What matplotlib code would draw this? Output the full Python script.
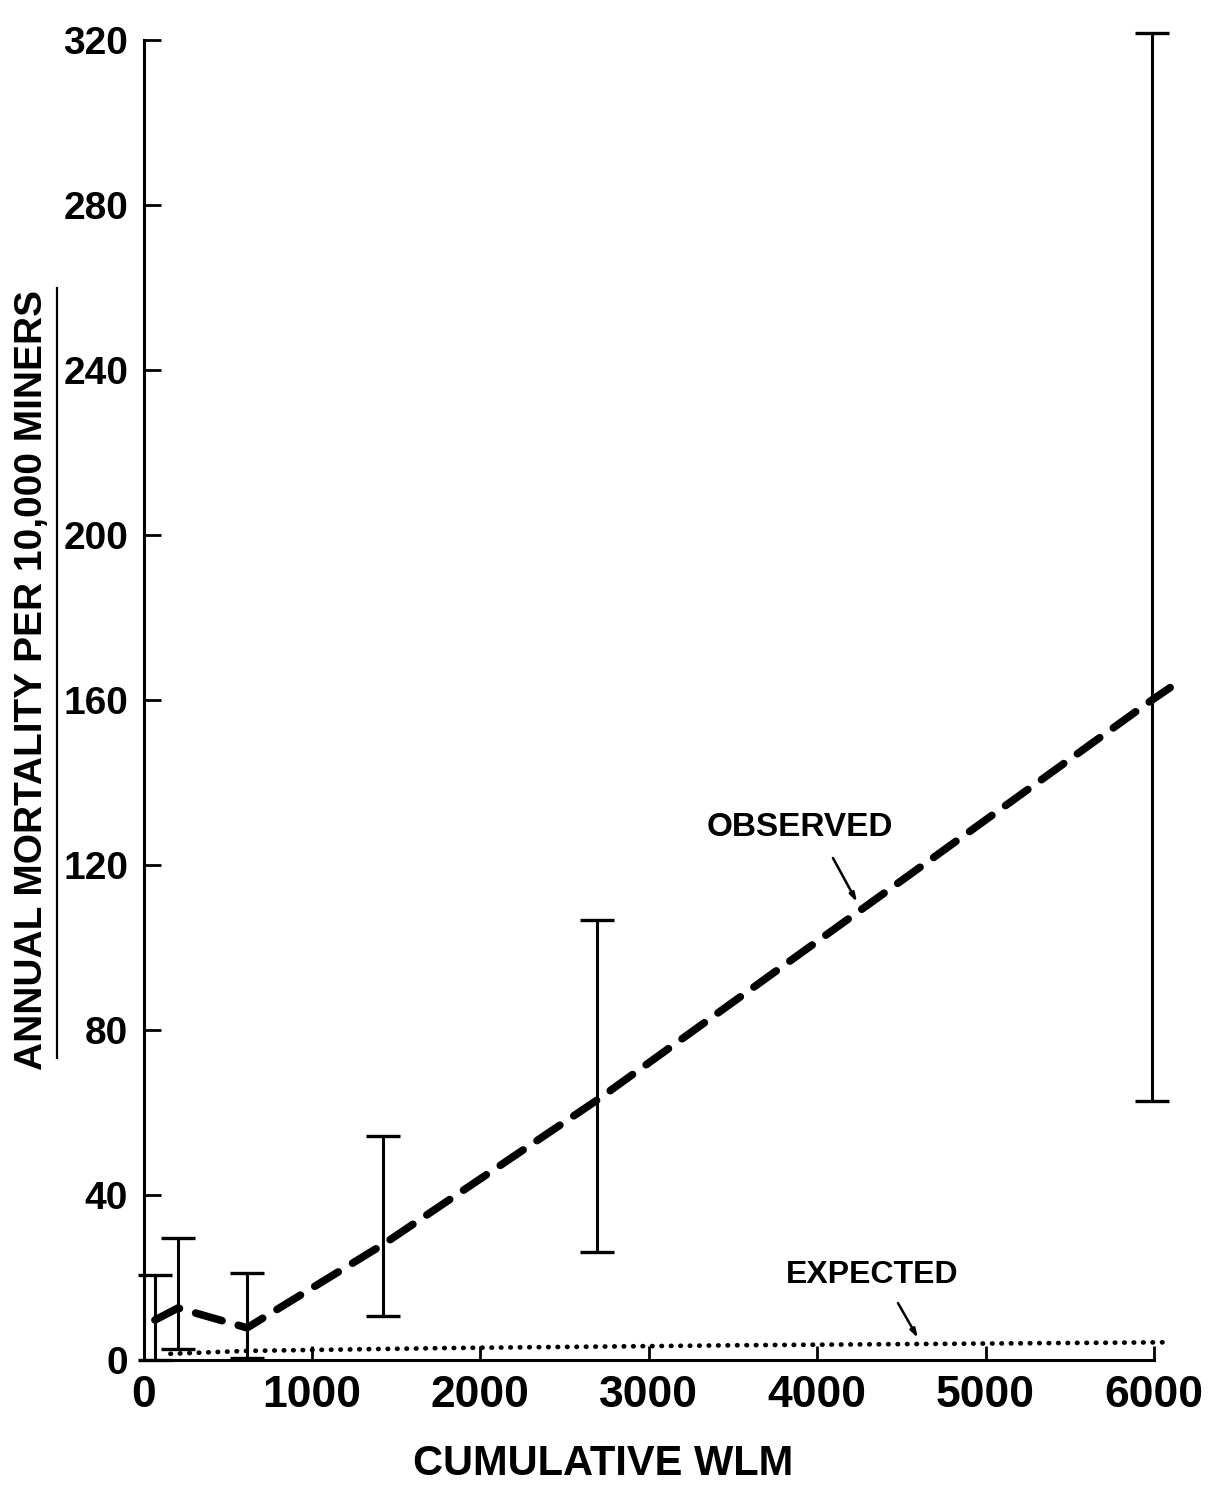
import matplotlib
matplotlib.use("Agg")
import matplotlib.pyplot as plt
from matplotlib.lines import Line2D

# dados (WLM acumulado x mortalidade anual por 10.000 mineiros)
obs_wlm = [68, 205, 615, 1422, 2693, 5988]
obs_rate = [9.7, 12.6, 7.8, 28.0, 63.0, 160.0]
obs_low = [0.0, 2.7, 0.5, 10.7, 26.2, 62.8]
obs_high = [20.6, 29.6, 21.0, 54.3, 106.7, 321.7]
# a linha tracejada continua um pouco alem do ultimo ponto
obs_line_end = (6096, 163.0)

exp_wlm = [160, 600, 1800, 3600, 6100]
exp_rate = [1.5, 2.2, 2.9, 3.6, 4.3]

x_ticks = [0, 1000, 2000, 3000, 4000, 5000, 6000]
y_ticks = [0, 40, 80, 120, 160, 200, 240, 280, 320]

plt.rcParams["font.family"] = ["Liberation Sans", "DejaVu Sans"]
plt.rcParams["font.weight"] = "bold"

fig = plt.figure(figsize=(12.11, 14.95), dpi=100)
ax = fig.add_axes([0.1185, 0.0903, 0.8622, 0.8829])

ax.set_xlim(0, 6200)
ax.set_ylim(0, 320)

# barras de erro
yerr = [[r - lo for r, lo in zip(obs_rate, obs_low)],
        [hi - r for r, hi in zip(obs_rate, obs_high)]]
ax.errorbar(obs_wlm, obs_rate, yerr=yerr, fmt="none", ecolor="black",
            elinewidth=2.2, capsize=12, capthick=2.4, clip_on=False, zorder=3)

# observado (tracejado)
lx = obs_wlm + [obs_line_end[0]]
ly = obs_rate + [obs_line_end[1]]
ax.plot(lx, ly, color="black", lw=5.5, dashes=(3.6, 2.2),
        dash_capstyle="round", clip_on=False, zorder=4)

# esperado (pontilhado)
ax.plot(exp_wlm, exp_rate, color="black", lw=3.4, dashes=(0.1, 1.9),
        dash_capstyle="round", clip_on=False, zorder=4)

# eixos
for s in ["top", "right"]:
    ax.spines[s].set_visible(False)
ax.spines["left"].set_linewidth(2.2)
ax.spines["bottom"].set_linewidth(2.2)
ax.spines["bottom"].set_bounds(0, 6000)

ax.set_xticks(x_ticks)
ax.set_yticks(y_ticks)
ax.set_xticklabels([str(v) for v in x_ticks])
ax.set_yticklabels([str(v) for v in y_ticks])
ax.tick_params(axis="y", direction="in", length=12, width=2, pad=11, labelsize=28)
ax.tick_params(axis="x", direction="in", length=10, width=2, pad=11, labelsize=32)

ax.set_xlabel("CUMULATIVE WLM", fontsize=30, fontweight="bold")
ax.xaxis.set_label_coords(0.44, -0.064)
ax.set_ylabel("ANNUAL MORTALITY PER 10,000 MINERS", fontsize=28, fontweight="bold")
ax.yaxis.set_label_coords(-0.09, 0.515)

# sublinhado do rotulo do eixo y
fig.add_artist(Line2D([57 / 1211, 57 / 1211], [1 - 1058 / 1495, 1 - 288 / 1495],
                      color="black", lw=1.6))

# anotacoes
ax.text(3898, 129, "OBSERVED", fontsize=24, fontweight="bold", ha="center", va="center")
ax.annotate("", xy=(4237, 111), xytext=(4094, 121.7),
            arrowprops=dict(arrowstyle="-|>,head_length=0.5,head_width=0.15",
                            color="black", lw=1.8, shrinkA=0, shrinkB=0))
ax.text(4326, 20.6, "EXPECTED", fontsize=23, fontweight="bold", ha="center", va="center")
ax.annotate("", xy=(4599, 5.3), xytext=(4480, 13.8),
            arrowprops=dict(arrowstyle="-|>,head_length=0.5,head_width=0.15",
                            color="black", lw=1.8, shrinkA=0, shrinkB=0))

fig.savefig("out.png", dpi=100, facecolor="white")
